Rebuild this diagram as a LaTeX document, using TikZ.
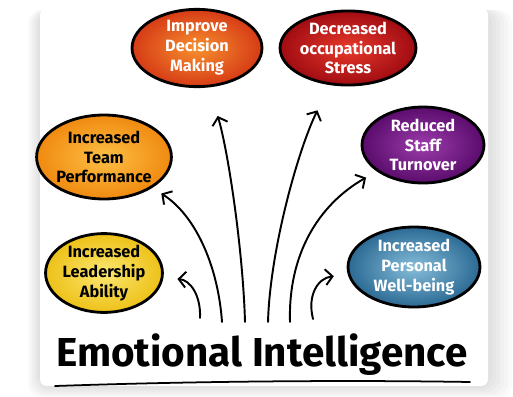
\documentclass[tikz,border=0pt]{standalone}
\usepackage{fontspec}
\setmainfont{Fira Sans}
\usetikzlibrary{shapes.geometric,arrows.meta}

\definecolor{improveIn}{HTML}{F7902E}
\definecolor{improveOut}{HTML}{D63B16}
\definecolor{stressIn}{HTML}{E8392A}
\definecolor{stressOut}{HTML}{A00C12}
\definecolor{teamIn}{HTML}{FDBF45}
\definecolor{teamOut}{HTML}{F08A10}
\definecolor{staffIn}{HTML}{9C3CAB}
\definecolor{staffOut}{HTML}{5A0C6C}
\definecolor{leadIn}{HTML}{FBE771}
\definecolor{leadOut}{HTML}{EDC118}
\definecolor{wellIn}{HTML}{86BEDA}
\definecolor{wellOut}{HTML}{2C6A94}

\begin{document}
\begin{tikzpicture}[x=0.02cm, y=-0.02cm,
  bubble/.style={ellipse, draw=black, line width=1.6pt, align=center, inner sep=0pt,
    text=white, font=\bfseries\fontsize{9.3}{11.3}\selectfont},
  arrow/.style={-{Straight Barb[length=4pt,width=9pt]}, line width=1.1pt, line cap=round}]
  \useasboundingbox (0,0) rectangle (513,396);
  % Card and its soft shadow
  \fill[white] (0,0) rectangle (513,396);
  \foreach \d in {24,20,...,0} {
    \fill[black, opacity=0.018, rounded corners=8pt] (40-\d/2,10) rectangle (488+\d,386+\d/2);
  }
  \fill[white, rounded corners=4pt] (40,8) rectangle (488,386);
  % Bubbles
  \node[bubble, minimum width=2.6cm, minimum height=1.12cm, inner color=improveIn, outer color=improveOut] (improve) at (197,48) {Improve\\Decision\\Making};
  \node[bubble, minimum width=2.4cm, minimum height=1.2cm, inner color=stressIn, outer color=stressOut] (stress) at (348,48) {Decreased\\occupational\\Stress};
  \node[bubble, minimum width=2.36cm, minimum height=1.68cm, inner color=teamIn, outer color=teamOut, text=black] (team) at (104,157) {Increased\\Team\\Performance};
  \node[bubble, minimum width=2.44cm, minimum height=1.52cm, inner color=staffIn, outer color=staffOut] (staff) at (423,145) {Reduced\\Staff\\Turnover};
  \node[bubble, minimum width=2.16cm, minimum height=1.4cm, inner color=leadIn, outer color=leadOut, text=black] (lead) at (104,273) {Increased\\Leadership\\Ability};
  \node[bubble, minimum width=2.64cm, minimum height=1.6cm, inner color=wellIn, outer color=wellOut] (well) at (414,267) {Increased\\Personal\\Well-being};
  % Title
  \node[anchor=base, font=\bfseries\fontsize{23}{26}\selectfont] (title) at (262,366) {Emotional Intelligence};
  \draw[line width=1pt, line cap=round] (55,386) .. controls (200,381) and (350,380) .. (470,382);
  % Arrows
  \foreach \n/\x/\y in {1/200/318, 2/222/322, 3/245/322, 4/268/322, 5/290/322, 6/313/319} {
    \coordinate (s\n) at (\x,\y);
  }
  \draw[arrow, shorten >=8pt] (s1) .. controls (201,295) and (190,280) .. (lead);
  \draw[arrow, shorten >=6pt] (s2) .. controls (218,265) and (195,215) .. (team);
  \draw[arrow, shorten >=17pt] (s3) .. controls (243,250) and (228,150) .. (improve);
  \draw[arrow, shorten >=16pt] (s4) .. controls (270,250) and (298,150) .. (stress);
  \draw[arrow, shorten >=7pt] (s5) .. controls (288,255) and (318,205) .. (staff);
  \draw[arrow, shorten >=8pt] (s6) .. controls (307,295) and (318,278) .. (well);
\end{tikzpicture}
\end{document}
